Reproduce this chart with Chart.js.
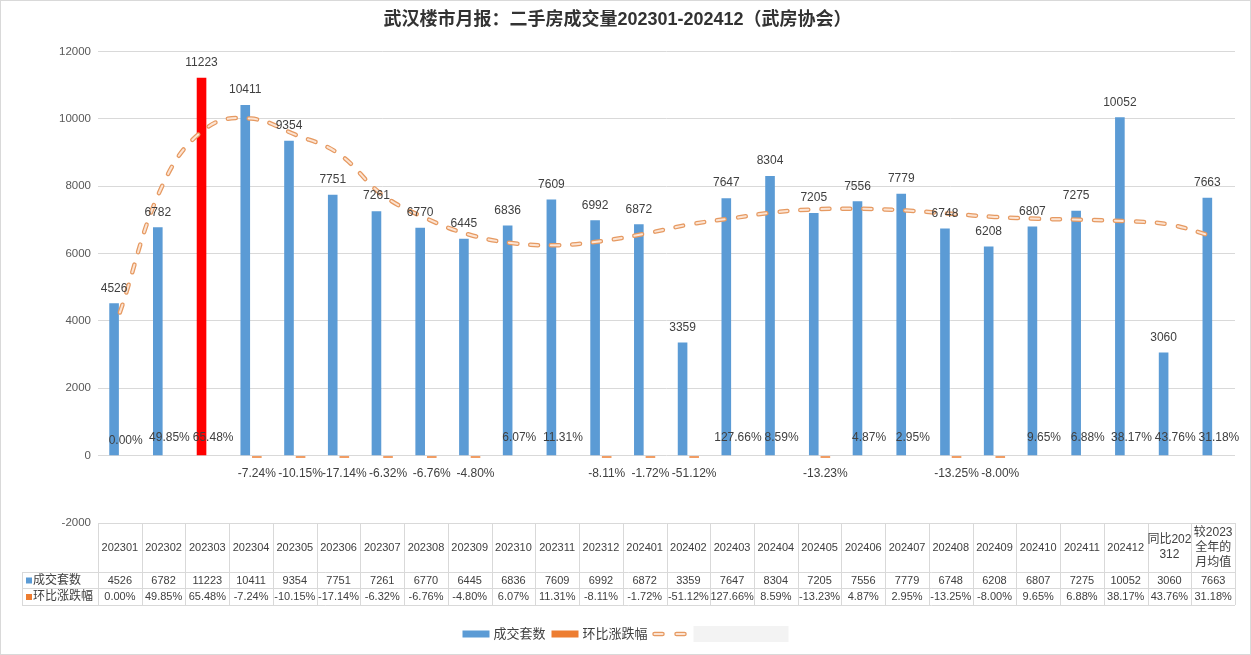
<!DOCTYPE html>
<html lang="zh">
<head>
<meta charset="UTF-8">
<title>武汉楼市月报：二手房成交量</title>
<script src="https://cdn.jsdelivr.net/npm/chart.js"></script>
<style>
    body { margin: 0; background: #fff; }
    #wrap { width: 1251px; height: 655px; }
</style>
</head>
<body>
<div id="wrap"><canvas id="salesChart" width="1251" height="655"></canvas></div>
<script>
// categories (last two columns are comparison columns)
var months = ['202301', '202302', '202303', '202304', '202305', '202306', '202307', '202308', '202309',
    '202310', '202311', '202312', '202401', '202402', '202403', '202404', '202405', '202406', '202407',
    '202408', '202409', '202410', '202411', '202412', ['同比202', '312'], ['较2023', '全年的', '月均值']];

// 成交套数
var deals = [4526, 6782, 11223, 10411, 9354, 7751, 7261, 6770, 6445, 6836, 7609, 6992, 6872, 3359,
    7647, 8304, 7205, 7556, 7779, 6748, 6208, 6807, 7275, 10052, 3060, 7663];

// 环比涨跌幅 (%)
var momChange = [0.00, 49.85, 65.48, -7.24, -10.15, -17.14, -6.32, -6.76, -4.80, 6.07, 11.31, -8.11,
    -1.72, -51.12, 127.66, 8.59, -13.23, 4.87, 2.95, -13.25, -8.00, 9.65, 6.88, 38.17, 43.76, 31.18];

// trendline
var trend = [4250, 8100, 9750, 10010, 9540, 8970, 7750, 7050, 6560, 6310, 6250, 6370, 6590, 6860,
    7050, 7230, 7320, 7330, 7280, 7185, 7090, 7035, 7005, 6965, 6865, 6510];

var yMin = -2000, yMax = 12000, yStep = 2000;
var highlightIndex = 2;

var BLUE = '#5B9BD5', ORANGE = '#ED7D31', RED = '#FF0000';
var TEXT = '#404040', LINE = '#d9d9d9';
var TREND_OUT = '#E69A62', TREND_IN = '#FCE4D3';
var FONT = '"Liberation Sans", "Noto Sans CJK SC", sans-serif';

var barColors = deals.map(function (v, i) { return i === highlightIndex ? RED : BLUE; });

var labelPlugin = {
    id: 'valueLabels',
    afterDatasetsDraw: function (chart) {
        var ctx = chart.ctx;
        ctx.save();
        ctx.font = '12px ' + FONT;
        ctx.fillStyle = TEXT;
        ctx.textAlign = 'center';
        ctx.textBaseline = 'middle';
        chart.getDatasetMeta(0).data.forEach(function (bar, i) {
            ctx.fillText(deals[i], bar.x, bar.y - 15);
        });
        chart.getDatasetMeta(1).data.forEach(function (bar, i) {
            var v = momChange[i];
            ctx.fillText(v.toFixed(2) + '%', bar.x, v >= 0 ? bar.y - 16 : bar.y + 16);
        });
        ctx.restore();
    }
};

var tablePlugin = {
    id: 'dataTable',
    afterDraw: function (chart) {
        var ctx = chart.ctx, x = chart.scales.x, area = chart.chartArea;
        var step = x.getPixelForValue(1) - x.getPixelForValue(0);
        var top = area.bottom;
        var rows = [top, top + 49, top + 65, top + 82];
        var labelLeft = 22;
        ctx.save();
        ctx.strokeStyle = LINE;
        ctx.lineWidth = 1;
        ctx.beginPath();
        ctx.moveTo(area.left, Math.round(rows[0]) + 0.5);
        ctx.lineTo(area.right, Math.round(rows[0]) + 0.5);
        for (var r = 1; r < rows.length; r++) {
            ctx.moveTo(labelLeft, Math.round(rows[r]) + 0.5);
            ctx.lineTo(area.right, Math.round(rows[r]) + 0.5);
        }
        ctx.moveTo(labelLeft + 0.5, rows[1]);
        ctx.lineTo(labelLeft + 0.5, rows[3]);
        for (var c = 0; c <= months.length; c++) {
            var lx = Math.round(area.left + c * step) + 0.5;
            ctx.moveTo(lx, rows[0]);
            ctx.lineTo(lx, rows[3]);
        }
        ctx.stroke();

        ctx.font = '11px ' + FONT;
        ctx.fillStyle = TEXT;
        ctx.textAlign = 'center';
        ctx.textBaseline = 'middle';
        months.forEach(function (m, i) {
            var cx = x.getPixelForValue(i);
            var lines = Array.isArray(m) ? m : [m];
            var mid = (rows[0] + rows[1]) / 2;
            ctx.font = (lines.length > 1 ? '12px ' : '11px ') + FONT;
            lines.forEach(function (t, k) {
                ctx.fillText(t, cx, mid + (k - (lines.length - 1) / 2) * 15);
            });
            ctx.font = '11px ' + FONT;
            ctx.fillText(deals[i], cx, (rows[1] + rows[2]) / 2 + 0.5);
            ctx.fillText(momChange[i].toFixed(2) + '%', cx, (rows[2] + rows[3]) / 2 + 0.5);
        });

        // row headers
        ctx.textAlign = 'left';
        ctx.font = '12px ' + FONT;
        [['成交套数', BLUE], ['环比涨跌幅', ORANGE]].forEach(function (h, k) {
            var cy = (rows[k + 1] + rows[k + 2]) / 2 + 0.5;
            ctx.fillStyle = h[1];
            ctx.fillRect(labelLeft + 4, cy - 3, 6, 6);
            ctx.fillStyle = TEXT;
            ctx.fillText(h[0], labelLeft + 11, cy);
        });

        // legend
        ctx.font = '13px ' + FONT;
        var ly = 634;
        var w1 = ctx.measureText('成交套数').width, w2 = ctx.measureText('环比涨跌幅').width;
        var total = 27 + 4 + w1 + 6 + 27 + 4 + w2 + 4 + 38 + 4 + 95;
        var lx0 = chart.width / 2 - total / 2;
        ctx.fillStyle = BLUE;
        ctx.fillRect(lx0, ly - 3.5, 27, 7);
        ctx.fillStyle = TEXT;
        ctx.fillText('成交套数', lx0 + 31, ly);
        var lx1 = lx0 + 31 + w1 + 6;
        ctx.fillStyle = ORANGE;
        ctx.fillRect(lx1, ly - 3.5, 27, 7);
        ctx.fillStyle = TEXT;
        ctx.fillText('环比涨跌幅', lx1 + 31, ly);
        var lx2 = lx1 + 31 + w2 + 4;
        ctx.lineCap = 'round';
        [[4.5, TREND_OUT], [2, TREND_IN]].forEach(function (s) {
            ctx.lineWidth = s[0];
            ctx.strokeStyle = s[1];
            ctx.beginPath();
            ctx.moveTo(lx2 + 3, ly); ctx.lineTo(lx2 + 11, ly);
            ctx.moveTo(lx2 + 25, ly); ctx.lineTo(lx2 + 33, ly);
            ctx.stroke();
        });
        ctx.fillStyle = '#f3f3f3';
        ctx.fillRect(lx2 + 42, ly - 8, 95, 16);

        // outer frame
        ctx.lineWidth = 1;
        ctx.strokeStyle = LINE;
        ctx.strokeRect(0.5, 0.5, chart.width - 1, chart.height - 1);
        ctx.restore();
    }
};

var trendDash = [8, 13];

new Chart(document.getElementById('salesChart'), {
    type: 'bar',
    data: {
        labels: months,
        datasets: [{
            label: '成交套数',
            data: deals,
            backgroundColor: barColors,
            categoryPercentage: 0.53,
            barPercentage: 0.83,
            order: 2
        }, {
            label: '环比涨跌幅',
            data: momChange.map(function (v) { return v / 100; }),
            backgroundColor: momChange.map(function (v) { return v < 0 ? ORANGE : 'rgba(0,0,0,0)'; }),
            minBarLength: 2,
            categoryPercentage: 0.53,
            barPercentage: 0.83,
            order: 2
        }, {
            type: 'line',
            label: 'trend',
            data: trend,
            borderColor: TREND_OUT,
            borderWidth: 4.5,
            borderDash: trendDash,
            borderCapStyle: 'round',
            tension: 0.4,
            pointRadius: 0,
            fill: false,
            order: 1
        }, {
            type: 'line',
            label: 'trend inner',
            data: trend,
            borderColor: TREND_IN,
            borderWidth: 2,
            borderDash: trendDash,
            borderCapStyle: 'round',
            tension: 0.4,
            pointRadius: 0,
            fill: false,
            order: 0
        }]
    },
    options: {
        responsive: false,
        animation: false,
        layout: { padding: { left: 0, right: 16, top: 0, bottom: 132 } },
        plugins: {
            legend: { display: false },
            tooltip: { enabled: false },
            title: {
                display: true,
                text: '武汉楼市月报：二手房成交量202301-202412（武房协会）',
                color: '#333333',
                font: { family: FONT, size: 18, weight: 'bold' },
                padding: { top: 9, bottom: 21 }
            }
        },
        scales: {
            x: { display: false },
            y: {
                min: yMin,
                max: yMax,
                afterFit: function (scale) { scale.width = 98; },
                ticks: {
                    stepSize: yStep,
                    color: '#595959',
                    padding: 7,
                    font: { family: FONT, size: 11.5 },
                    callback: function (v) { return String(v); }
                },
                grid: { color: LINE, drawTicks: false },
                border: { display: false }
            }
        }
    },
    plugins: [labelPlugin, tablePlugin]
});
</script>
</body>
</html>
